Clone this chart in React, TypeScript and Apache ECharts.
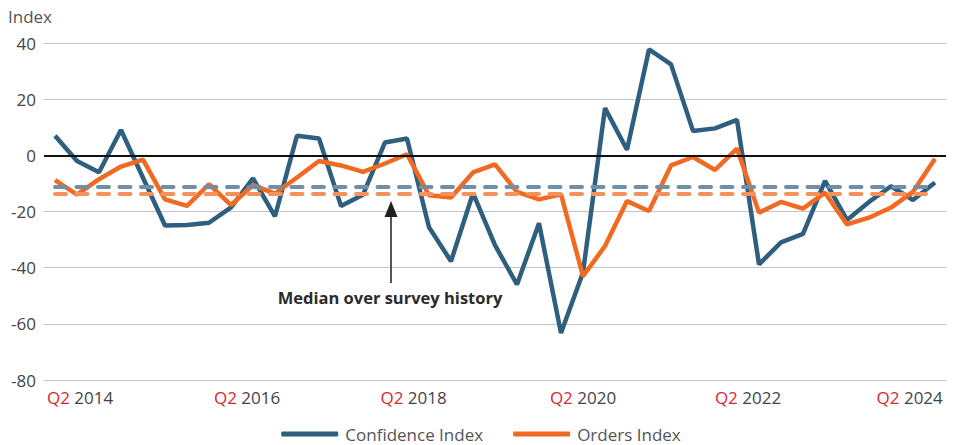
import React, { useEffect, useRef } from "react";
import * as echarts from "echarts";

// Quarterly categories Q2 2014 .. Q2 2024
const quarters: string[] = [];
for (let y = 2014; y <= 2024; y++) {
  for (let q = 1; q <= 4; q++) {
    if ((y === 2014 && q < 2) || (y === 2024 && q > 2)) continue;
    quarters.push(`Q${q} ${y}`);
  }
}

const confidenceIndex = [
  7, -2, -6, 9, -8, -25, -24.8, -24, -18.5, -8.2, -21.7, 7, 6, -18, -14, 4.6,
  6, -25.6, -37.7, -13.5, -32, -46, -24.2, -63.3, -41.7, 16.8, 2, 37.7, 32.4,
  8.7, 9.6, 12.6, -38.8, -31, -28, -9.1, -23, -16.6, -11, -15.9, -9.7,
];

const ordersIndex = [
  -8.8, -14, -8.5, -4, -1.5, -15.7, -18, -10.3, -17.7, -10.6, -13.6, -7.9, -2,
  -3.6, -5.9, -2.9, 0.4, -14.2, -15, -6.1, -3.2, -13, -15.7, -13.9, -43, -32.3,
  -16.3, -19.8, -3.6, -0.6, -5.2, 2.4, -20.4, -16.6, -19, -13.3, -24.6, -22.2,
  -18.6, -13, -1.2,
];

const confidenceMedian = -11.2;
const ordersMedian = -13.8;

const tickLabels = ["Q2 2014", "Q2 2016", "Q2 2018", "Q2 2020", "Q2 2022", "Q2 2024"];
const tickPositions = [1.14, 8.73, 16.3, 24.0, 31.5, 38.85];

const yTicks = { min: -80, max: 40, interval: 20 };

const FONT = "'Open Sans', sans-serif";
const BLUE = "#2f5f7f";
const ORANGE = "#f26a21";

export default function App() {
  const ref = useRef<HTMLDivElement>(null);

  useEffect(() => {
    document.body.style.margin = "0";
    const chart = echarts.init(ref.current!, null, { renderer: "svg" });
    const lastIdx = quarters.length - 1;
    chart.setOption({
      animation: false,
      textStyle: { fontFamily: FONT },
      grid: { left: 44, right: 16, top: 43, bottom: 65, containLabel: false },
      legend: {
        top: 419,
        left: "center",
        icon: "roundRect",
        itemWidth: 57,
        itemHeight: 5,
        itemGap: 30,
        textStyle: { fontFamily: FONT, fontSize: 17, lineHeight: 20, color: "#555", padding: [0, 0, 0, 2] },
        data: ["Confidence Index", "Orders Index"],
      },
      xAxis: [
        {
          type: "category",
          data: quarters,
          boundaryGap: true,
          axisLine: { show: false },
          axisTick: { show: false },
          axisLabel: { show: false },
          splitLine: { show: false },
        },
        {
          type: "value",
          min: -0.5,
          max: quarters.length - 0.5,
          position: "bottom",
          axisLine: { show: false },
          axisTick: { show: false },
          splitLine: { show: false },
          axisLabel: {
            customValues: tickPositions,
            margin: 9,
            formatter: (v: number) => {
              let best = 0;
              tickPositions.forEach((p, i) => {
                if (Math.abs(p - v) < Math.abs(tickPositions[best] - v)) best = i;
              });
              const [q, yr] = tickLabels[best].split(" ");
              return `{q|${q}} {y|${yr}}`;
            },
            rich: {
              q: { color: "#d7282f", fontSize: 17, fontFamily: FONT },
              y: { color: "#444", fontSize: 17, fontFamily: FONT },
            },
            fontSize: 17,
            color: "#444",
          },
        },
      ],
      yAxis: {
        type: "value",
        min: yTicks.min,
        max: yTicks.max,
        interval: yTicks.interval,
        name: "Index",
        nameLocation: "end",
        nameGap: 18,
        nameTextStyle: { fontFamily: FONT, fontSize: 17, color: "#555", align: "left", padding: [0, 0, 0, -47] },
        axisLine: { show: false },
        axisTick: { show: false },
        axisLabel: { fontFamily: FONT, fontSize: 17, color: "#444", margin: 8 },
        splitLine: { lineStyle: { color: "#c4c4c4", width: 1 } },
      },
      series: [
        {
          name: "Confidence Index",
          type: "line",
          xAxisIndex: 0,
          data: confidenceIndex,
          symbol: "none",
          lineStyle: { color: BLUE, width: 4.5 },
          itemStyle: { color: BLUE },
          z: 3,
          markLine: {
            silent: true,
            symbol: "none",
            label: { show: false },
            lineStyle: { color: "#6f8fa7", width: 4, type: [11, 10.5], cap: "round" },
            data: [
              [
                { coord: [0, confidenceMedian] },
                { coord: [lastIdx, confidenceMedian] },
              ],
              [
                { yAxis: 0, x: 44, lineStyle: { color: "#111", width: 2, type: "solid", cap: "butt" } },
                { yAxis: 0, x: 946 },
              ],
            ],
          },
        },
        {
          name: "Orders Index",
          type: "line",
          xAxisIndex: 0,
          data: ordersIndex,
          symbol: "none",
          lineStyle: { color: ORANGE, width: 4.5 },
          itemStyle: { color: ORANGE },
          z: 4,
          markLine: {
            silent: true,
            symbol: "none",
            label: { show: false },
            lineStyle: { color: "#f5925b", width: 4, type: [11, 10.5], cap: "round" },
            data: [
              [
                { coord: [0, ordersMedian] },
                { coord: [lastIdx, ordersMedian] },
              ],
            ],
          },
        },
      ],
      graphic: [
        {
          type: "line",
          shape: { x1: 391, y1: 283, x2: 391, y2: 214 },
          style: { stroke: "#555", lineWidth: 2 },
          z: 10,
        },
        {
          type: "polygon",
          shape: { points: [[391, 201], [384.5, 217], [397.5, 217]] },
          style: { fill: "#231f20" },
          z: 10,
        },
        {
          type: "text",
          x: 390,
          y: 297,
          style: {
            text: "Median over survey history",
            fontFamily: FONT,
            fontSize: 16.5,
            fontWeight: "bold",
            fill: "#2b2b2b",
            align: "center",
            verticalAlign: "middle",
          },
          z: 10,
        },
      ],
    });
    return () => chart.dispose();
  }, []);

  return <div ref={ref} style={{ width: 962, height: 445 }} />;
}
